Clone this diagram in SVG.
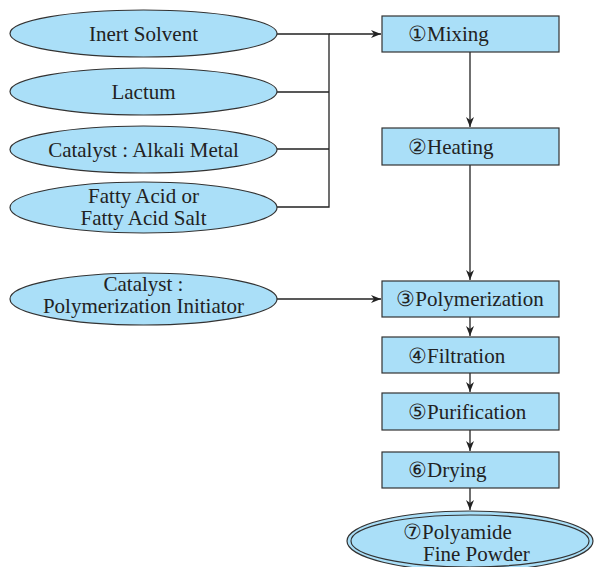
<svg xmlns="http://www.w3.org/2000/svg" width="594" height="567" viewBox="0 0 594 567">
<defs>
<style>
.n{fill:#aadff8;stroke:#333;stroke-width:1.2}
.c{text-anchor:middle}
.l{fill:none;stroke:#222;stroke-width:1.3}
</style>
<marker id="a" viewBox="0 0 10 10" refX="10" refY="5" markerWidth="10" markerHeight="10" markerUnits="userSpaceOnUse" orient="auto"><path d="M0,1 L10,5 L0,9 L3,5 Z" fill="#222"/></marker>
</defs>
<g id="connectors">
<path class="l" d="M277,34 H329 V207 H277 M277,92 H329 M277,149 H329"/>
<path class="l" d="M329,34 H381" marker-end="url(#a)"/>
<path class="l" d="M470,52 V127" marker-end="url(#a)"/>
<path class="l" d="M470,165 V280" marker-end="url(#a)"/>
<path class="l" d="M277,299 H381" marker-end="url(#a)"/>
<path class="l" d="M470,317 V336" marker-end="url(#a)"/>
<path class="l" d="M470,373 V392" marker-end="url(#a)"/>
<path class="l" d="M470,430 V451" marker-end="url(#a)"/>
<path class="l" d="M470,488 V510" marker-end="url(#a)"/>
</g>
<g font-family="'Times New Roman', 'Liberation Serif', 'DejaVu Serif', serif" font-size="21" fill="#222">
<g id="inert"><ellipse class="n" cx="143.5" cy="33.5" rx="133.5" ry="23.5"/><text class="c" x="143.5" y="41">Inert Solvent</text></g>
<g id="lactum"><ellipse class="n" cx="143.5" cy="91.5" rx="133.5" ry="23.5"/><text class="c" x="143.5" y="99">Lactum</text></g>
<g id="alkali"><ellipse class="n" cx="143.5" cy="149.5" rx="133.5" ry="23.5"/><text class="c" x="143.5" y="157">Catalyst : Alkali Metal</text></g>
<g id="fatty"><ellipse class="n" cx="143.5" cy="207.5" rx="133.5" ry="25.5"/><text class="c" x="143.5" y="203">Fatty Acid or</text><text class="c" x="143.5" y="225">Fatty Acid Salt</text></g>
<g id="initiator"><ellipse class="n" cx="143.5" cy="299" rx="133.5" ry="26"/><text class="c" x="143.5" y="291">Catalyst :</text><text class="c" x="143.5" y="313">Polymerization Initiator</text></g>
<g id="mixing"><rect class="n" x="382" y="16" width="177" height="36"/><text x="408" y="41">①Mixing</text></g>
<g id="heating"><rect class="n" x="382" y="128" width="177" height="37"/><text x="408" y="154">②Heating</text></g>
<g id="polymerization"><rect class="n" x="382" y="281" width="177" height="36"/><text class="c" x="470" y="306">③Polymerization</text></g>
<g id="filtration"><rect class="n" x="382" y="337" width="177" height="36"/><text x="408" y="363">④Filtration</text></g>
<g id="purification"><rect class="n" x="382" y="393" width="177" height="37"/><text x="408" y="419">⑤Purification</text></g>
<g id="drying"><rect class="n" x="382" y="452" width="177" height="36"/><text x="408" y="477">⑥Drying</text></g>
<g id="powder"><ellipse class="n" cx="470" cy="541" rx="123" ry="30"/><ellipse class="n" cx="470" cy="541" rx="119" ry="26"/><text x="403" y="539">⑦Polyamide</text><text x="423" y="561">Fine Powder</text></g>
</g>
</svg>
